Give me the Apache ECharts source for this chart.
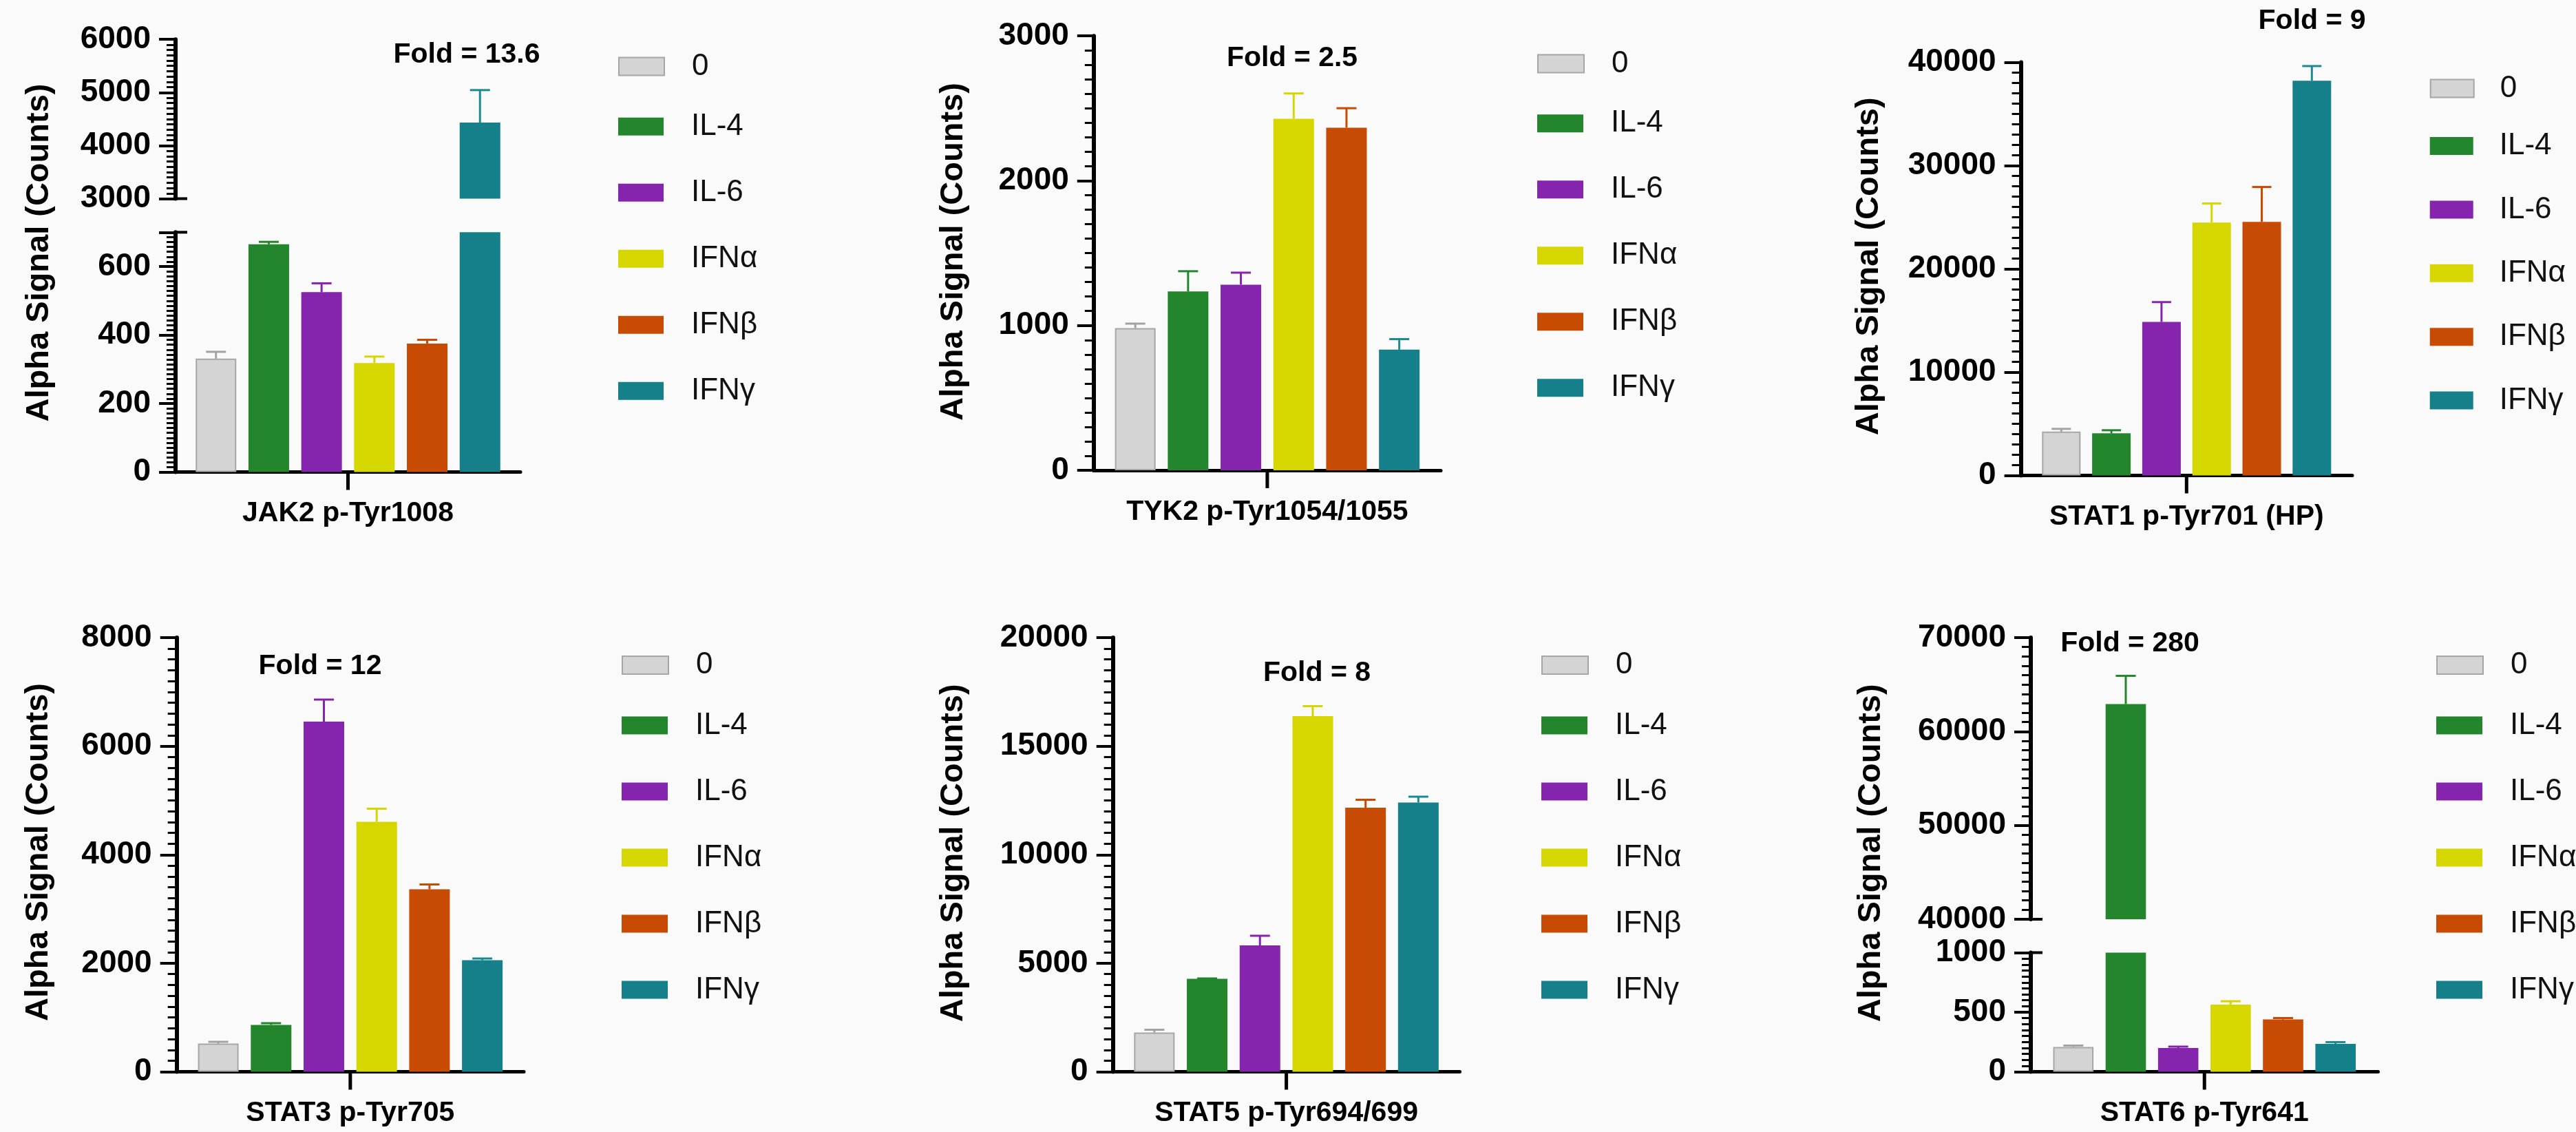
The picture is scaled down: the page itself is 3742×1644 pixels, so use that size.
<!DOCTYPE html>
<html>
<head>
<meta charset="utf-8">
<script src="https://cdn.jsdelivr.net/npm/echarts@6/dist/echarts.min.js"></script>
<style>
html,body{margin:0;padding:0;background:#fafafa;}
#c{width:3742px;height:1644px;}
</style>
</head>
<body>
<div id="c"></div>
<script>
// ---------------- DATA ----------------
const treatments = ['0', 'IL-4', 'IL-6', 'IFNα', 'IFNβ', 'IFNγ'];
const targets = ['JAK2 p-Tyr1008', 'TYK2 p-Tyr1054/1055', 'STAT1 p-Tyr701 (HP)',
                 'STAT3 p-Tyr705', 'STAT5 p-Tyr694/699', 'STAT6 p-Tyr641'];
const foldLabels = ['Fold = 13.6', 'Fold = 2.5', 'Fold = 9', 'Fold = 12', 'Fold = 8', 'Fold = 280'];
const yTitle = 'Alpha Signal (Counts)';

// means and (upper) error bar sizes, in treatment order
const jak2Mean  = [331, 665, 525, 318, 375, 4432];
const jak2Err   = [20, 7, 26, 19, 11, 613];
const tyk2Mean  = [982, 1235, 1282, 2428, 2366, 833];
const tyk2Err   = [31, 140, 83, 175, 135, 73];
const stat1Mean = [4246, 4080, 14860, 24480, 24546, 38212];
const stat1Err  = [265, 298, 1924, 1857, 3383, 1426];
const stat3Mean = [520, 863, 6452, 4606, 3362, 2055];
const stat3Err  = [32, 32, 406, 241, 89, 32];
const stat5Mean = [1808, 4282, 5821, 16384, 12165, 12403];
const stat5Err  = [127, 16, 444, 460, 365, 269];
const stat6Mean = [208, 62920, 199, 564, 439, 234];
const stat6Err  = [12, 3007, 12, 28, 12, 15];

// y axis ranges [min, max, tick interval]; broken axes list upper segment first
const jak2AxisUpper  = [3000, 6000, 1000];
const jak2AxisLower  = [0, 700, 200];
const tyk2Axis       = [0, 3000, 1000];
const stat1Axis      = [0, 40000, 10000];
const stat3Axis      = [0, 8000, 2000];
const stat5Axis      = [0, 20000, 5000];
const stat6AxisUpper = [40000, 70000, 10000];
const stat6AxisLower = [0, 1000, 500];

// ---------------- STYLE / LAYOUT ----------------
const barColors = ['#d4d4d4', '#23862d', '#8524ad', '#d6d600', '#c84b03', '#158089'];
const errColors = ['#a3a3a3', '#23862d', '#8524ad', '#d6d600', '#c84b03', '#1a8b93'];
const FONT = '"Liberation Sans", Arial, Helvetica, sans-serif';

const layout = [
  {x: 255, right: 756, bw: 59, cap: 29,
   segs: [{top: 57.2, bottom: 288.5, minor: 10}, {top: 337.3, bottom: 685.5, minor: 0, minorStep: 100, minorSplit: 7}],
   leg: {x: 898, y: 74.6, y2: 161.7, gap: 52, w: 66, pad: 35}, fold: [678, 80], title: [57, 367]},
  {x: 1588.8, right: 2093, bw: 59, cap: 29,
   segs: [{top: 52.2, bottom: 683, minor: 10}],
   leg: {x: 2233, y: 70.6, y2: 157.2, gap: 52, w: 67, pad: 35}, fold: [1877, 85], title: [1385.5, 365.6]},
  {x: 2935.6, right: 3417, bw: 56, cap: 28,
   segs: [{top: 90.5, bottom: 690.5, minor: 10}],
   leg: {x: 3529.7, y: 106.5, y2: 190, gap: 48.4, w: 63, pad: 33}, fold: [3358.6, 30.5], title: [2715.5, 386.8]},
  {x: 256.7, right: 761, bw: 59, cap: 29,
   segs: [{top: 926, bottom: 1556.5, minor: 10}],
   leg: {x: 903, y: 944, y2: 1031.5, gap: 52, w: 67, pad: 35}, fold: [465, 967.5], title: [56, 1237.5]},
  {x: 1616.7, right: 2120.5, bw: 59, cap: 29,
   segs: [{top: 926, bottom: 1556.5, minor: 10}],
   leg: {x: 2239, y: 944, y2: 1031.5, gap: 52, w: 67, pad: 35}, fold: [1913, 977.5], title: [1385.5, 1238.8]},
  {x: 2950, right: 3454.5, bw: 58.6, cap: 29,
   segs: [{top: 926, bottom: 1335, minor: 10}, {top: 1383.5, bottom: 1556.5, minor: 10}],
   leg: {x: 3539, y: 944, y2: 1031.5, gap: 52, w: 67, pad: 35}, fold: [3094, 935], title: [2717.8, 1238.8]}
];

const panels = [
  {mean: jak2Mean,  err: jak2Err,  axes: [jak2AxisUpper, jak2AxisLower]},
  {mean: tyk2Mean,  err: tyk2Err,  axes: [tyk2Axis]},
  {mean: stat1Mean, err: stat1Err, axes: [stat1Axis]},
  {mean: stat3Mean, err: stat3Err, axes: [stat3Axis]},
  {mean: stat5Mean, err: stat5Err, axes: [stat5Axis]},
  {mean: stat6Mean, err: stat6Err, axes: [stat6AxisUpper, stat6AxisLower]}
];

function errorBars(bw, cap) {
  return function (params, api) {
    const cat = api.value(0), m = api.value(1), e = api.value(2), ti = api.value(3);
    const cs = params.coordSys;
    const base = api.coord([cat, m]);
    if (base[1] < cs.y - 1 || base[1] > cs.y + cs.height + 1) return null;
    const top = api.coord([cat, m + e]);
    const x = base[0] + (ti - 2.5) * bw * 1.3;
    const style = {stroke: errColors[ti], lineWidth: 3};
    return {
      type: 'group',
      children: [
        {type: 'line', shape: {x1: x, y1: base[1], x2: x, y2: top[1]}, style: style},
        {type: 'line', shape: {x1: x - cap / 2, y1: top[1], x2: x + cap / 2, y2: top[1]}, style: style}
      ]
    };
  };
}

function categoryTick(params, api) {
  const c = api.coord([api.value(0), api.value(1)]);
  return {type: 'line', shape: {x1: c[0], y1: c[1], x2: c[0], y2: c[1] + 26},
          style: {stroke: '#000', lineWidth: 5}};
}

const grid = [], xAxis = [], yAxis = [], series = [], legend = [], graphic = [];

panels.forEach((p, pi) => {
  const L = layout[pi];
  const nSeg = p.axes.length;
  p.axes.forEach((ax, si) => {
    const seg = L.segs[si];
    const isBottom = si === nSeg - 1;
    const gi = grid.length;
    grid.push({left: L.x, top: seg.top, width: L.right - L.x, height: seg.bottom - seg.top,
               containLabel: false, outerBoundsMode: 'none'});
    xAxis.push({
      type: 'category', gridIndex: gi, data: [targets[pi]], show: isBottom,
      axisLine: {show: true, onZero: false, lineStyle: {color: '#000', width: 5}},
      axisTick: {show: false},
      axisLabel: {show: true, margin: 40, color: '#000', fontFamily: FONT, fontSize: 41, fontWeight: 'bold'},
      splitLine: {show: false}
    });
    const [mn, mx, iv] = ax;
    const yi = yAxis.length;
    yAxis.push({
      type: 'value', gridIndex: gi, position: 'left', min: mn, max: mx, interval: iv,
      axisLine: {show: true, onZero: false, lineStyle: {color: '#000', width: 6}},
      axisTick: {show: true, length: 24, lineStyle: {color: '#000', width: 4}},
      minorTick: {show: seg.minor > 0, splitNumber: seg.minor || 5, length: 13, lineStyle: {color: '#000', width: 3}},
      splitLine: {show: false}, minorSplitLine: {show: false},
      axisLabel: {margin: 36, color: '#000', fontFamily: FONT, fontSize: 46, fontWeight: 'bold',
                  formatter: v => (v % iv === 0 ? String(v) : '')}
    });
    if (seg.minorStep) {
      yAxis.push({
        type: 'value', gridIndex: gi, position: 'left', min: mn, max: mx, interval: seg.minorStep,
        axisLine: {show: false},
        axisTick: {show: true, length: 13, lineStyle: {color: '#000', width: 3}},
        minorTick: {show: true, splitNumber: seg.minorSplit, length: 13, lineStyle: {color: '#000', width: 3}},
        splitLine: {show: false}, axisLabel: {show: false}
      });
    }
    treatments.forEach((t, ti) => {
      series.push({
        type: 'bar', name: t, xAxisIndex: gi, yAxisIndex: yi, data: [p.mean[ti]],
        barWidth: L.bw, barGap: '30%', clip: true, silent: true,
        itemStyle: {color: barColors[ti], borderColor: ti === 0 ? '#a6a6a6' : barColors[ti], borderWidth: ti === 0 ? 2 : 0}
      });
    });
    series.push({
      type: 'custom', xAxisIndex: gi, yAxisIndex: yi, silent: true, z: 3,
      encode: {x: 0, y: 1},
      data: treatments.map((t, ti) => [0, p.mean[ti], p.err[ti], ti]),
      renderItem: errorBars(L.bw, L.cap)
    });
    if (isBottom) {
      // single category tick below the x axis
      series.push({
        type: 'custom', xAxisIndex: gi, yAxisIndex: yi, silent: true, z: 3, clip: false,
        encode: {x: 0, y: 1}, data: [[0, mn]], renderItem: categoryTick
      });
    }
    // break caps on the right side of the axis at segment ends
    if (nSeg > 1) {
      const y = isBottom ? seg.top : seg.bottom;
      graphic.push({type: 'line', shape: {x1: L.x, y1: y, x2: L.x + 17, y2: y},
                    style: {stroke: '#000', lineWidth: 4}, z: 10});
    }
  });

  const legBase = {
    orient: 'vertical', left: L.leg.x, itemWidth: L.leg.w, itemHeight: 26, itemGap: L.leg.gap,
    icon: 'rect', selectedMode: false, padding: 0,
    textStyle: {fontFamily: FONT, fontSize: 44, color: '#111', lineHeight: 26, padding: [0, 0, 0, L.leg.pad]}
  };
  legend.push(Object.assign({}, legBase, {data: [treatments[0]], top: L.leg.y}));
  legend.push(Object.assign({}, legBase, {data: treatments.slice(1), top: L.leg.y2}));

  graphic.push({type: 'text', x: L.fold[0], y: L.fold[1], z: 10,
    style: {text: foldLabels[pi], fill: '#000', fontFamily: FONT, fontSize: 41, fontWeight: 'bold',
            align: 'center', verticalAlign: 'middle'}});
  graphic.push({type: 'text', x: L.title[0], y: L.title[1], rotation: Math.PI / 2, z: 10,
    style: {text: yTitle, fill: '#000', fontFamily: FONT, fontSize: 47, fontWeight: 'bold',
            align: 'center', verticalAlign: 'middle'}});
});

const chart = echarts.init(document.getElementById('c'), null, {renderer: 'canvas', width: 3742, height: 1644});
chart.setOption({
  backgroundColor: '#fafafa',
  animation: false,
  tooltip: {show: false},
  grid: grid, xAxis: xAxis, yAxis: yAxis, series: series, legend: legend,
  graphic: {elements: graphic}
});
</script>
</body>
</html>
